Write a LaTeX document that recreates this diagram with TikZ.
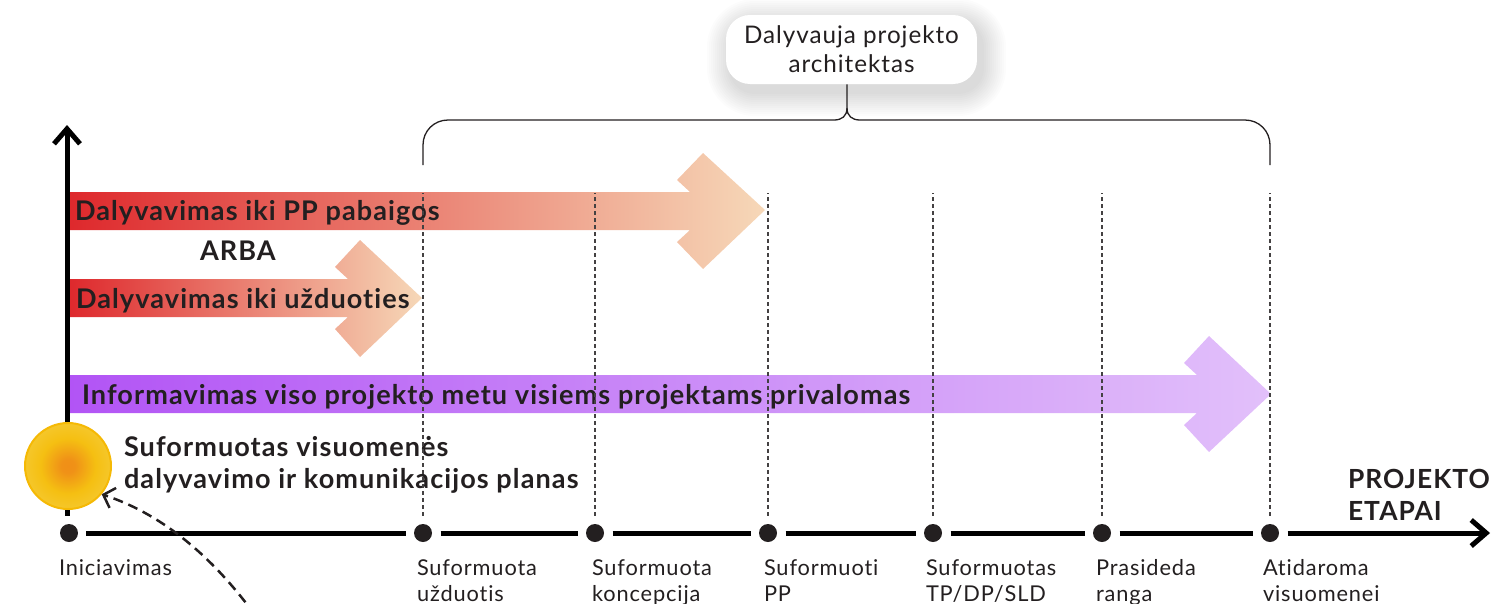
\documentclass[tikz,border=0pt]{standalone}
\usepackage{fontspec}
\setmainfont[LetterSpace=4,RawFeature={-liga;-dlig}]{Lato}
\usetikzlibrary{arrows.meta,positioning}
\definecolor{ink}{RGB}{35,31,32}
\definecolor{redstart}{RGB}{222,40,44}
\definecolor{redend}{RGB}{246,216,184}
\definecolor{violetstart}{RGB}{178,84,245}
\definecolor{violetend}{RGB}{226,192,250}
\definecolor{sunring}{RGB}{245,185,5}
\pgfdeclareradialshading{sunglow}{\pgfpoint{0bp}{0bp}}{rgb(0bp)=(.94,.56,.09);rgb(4bp)=(.94,.57,.09);rgb(16bp)=(.96,.75,.07);rgb(40bp)=(.96,.83,.33);rgb(50bp)=(.96,.85,.40)}
\tikzset{
  barlabel/.style={anchor=base west,inner sep=0pt,outer sep=0pt,text=ink,font=\fontsize{15.4}{18}\selectfont\bfseries},
  steplabel/.style={anchor=base west,inner sep=0pt,outer sep=0pt,text=ink,align=left,font=\fontsize{12.4}{14.7}\selectfont},
  milestone/.style={circle,fill=ink,minimum size=0.36cm,inner sep=0pt,outer sep=0.17cm},
  axisline/.style={line width=0.1cm,black},
  guide/.style={dash pattern=on 0.08cm off 0.06cm,line width=0.022cm,ink!85},
  bracket/.style={line width=0.026cm,ink},
}
\begin{document}
\begin{tikzpicture}[x=0.02cm,y=-0.02cm,>={Straight Barb[length=0.3cm,width=0.52cm,line width=0.1cm]}]
  \useasboundingbox (0,0) rectangle (1510,603);

  % arrows
  \shade[left color=redstart,right color=redend] (68,192) -- (690,192) -- (677,180) -- (703,153) -- (765,210) -- (703,269) -- (677,242) -- (690,230) -- (68,230) -- cycle;
  \shade[left color=redstart,right color=redend] (68,279) -- (348,279) -- (335,267) -- (360,240) -- (422,298) -- (360,357) -- (335,329) -- (348,317) -- (68,317) -- cycle;
  \shade[left color=violetstart,right color=violetend] (68,375) -- (1197,375) -- (1184,363) -- (1209,336) -- (1271,394) -- (1209,452) -- (1184,425) -- (1197,413) -- (68,413) -- cycle;

  \node[barlabel] (barpp)   at (75,220)  {Dalyvavimas iki PP pabaigos};
  \node[barlabel] (arba)    at (200,260) {ARBA};
  \node[barlabel] (baruzd)  at (76,308)  {Dalyvavimas iki užduoties};
  \node[barlabel] (barinfo) at (82,404)  {Informavimas viso projekto metu visiems projektams privalomas};
  \node[barlabel] (plan1)   at (124,456) {Suformuotas visuomenės};
  \node[barlabel] (plan2)   at (124,488) {dalyvavimo ir komunikacijos planas};

  % stages
  \node[milestone] (m1) at (69,533)   {};
  \node[milestone] (m2) at (423,533)  {};
  \node[milestone] (m3) at (595,533)  {};
  \node[milestone] (m4) at (768,533)  {};
  \node[milestone] (m5) at (933,533)  {};
  \node[milestone] (m6) at (1102,533) {};
  \node[milestone] (m7) at (1270,533) {};
  \coordinate (xtip) at (1490,533);
  \coordinate (ytip) at (67,125);
  \coordinate (guidetop) at (0,193);

  \node[steplabel] (l1) at (59,575)   {Iniciavimas};
  \node[steplabel] (l2) at (417,601)  {Suformuota\\užduotis};
  \node[steplabel] (l3) at (592,601)  {Suformuota\\koncepcija};
  \node[steplabel] (l4) at (764,601)  {Suformuoti\\PP};
  \node[steplabel] (l5) at (926,601)  {Suformuotas\\TP/DP/SLD};
  \node[steplabel] (l6) at (1096,601) {Prasideda\\ranga};
  \node[steplabel] (l7) at (1263,601) {Atidaroma\\visuomenei};
  \node[barlabel,font=\fontsize{15}{18}\selectfont\bfseries] (proj1) at (1348,488) {PROJEKTO};
  \node[barlabel,font=\fontsize{15}{18}\selectfont\bfseries] (proj2) at (1348,520) {ETAPAI};

  \foreach \i/\j in {1/2,2/3,3/4,4/5,5/6,6/7}
    \draw[axisline] (m\i) -- (m\j);
  \draw[axisline,->] (m7) -- (xtip);
  \draw[axisline,->] (m1.north -| ytip) -- (ytip);
  \foreach \i in {2,...,7}
    \draw[guide] (m\i.north) -- (m\i.north |- guidetop);

  % sun
  \node[circle,minimum size=1.72cm,inner sep=0pt,draw=sunring,line width=0.04cm,shading=sunglow] (sun) at (68,466) {};
  \coordinate (leader) at (255,615);
  \draw[dash pattern=on 0.2cm off 0.12cm,line width=0.05cm,ink,-{Straight Barb[length=0.2cm,width=0.42cm,line width=0.05cm]}] (leader) .. controls (215,560) and (165,515) .. (sun.-40);

  % callout
  \foreach \s [evaluate=\s as \r using 0.48+0.04*\s] in {1,...,12}
    \fill[black,opacity=0.011,rounded corners=\r cm] (726+5-2*\s,15+8-2*\s) rectangle (977+5+2*\s,84+8+2*\s);
  \node[fill=white,rounded corners=0.48cm,minimum width=5.02cm,minimum height=1.38cm,text=ink,align=center,font=\fontsize{13.8}{16.4}\selectfont] (callout) at (851.5,49.5) {Dalyvauja projekto\\architektas};
  \coordinate (brackleft) at (423,165);
  \coordinate (brackright) at (1270,165);
  \coordinate (brackfork) at (847,108);
  \draw[bracket] (callout.south -| brackfork) -- (brackfork) .. controls (847,116) and (842,120) .. (834,120) -- (448,120) .. controls (434,120) and (423,131) .. (423,145) -- (brackleft);
  \draw[bracket] (brackfork) .. controls (847,116) and (852,120) .. (860,120) -- (1245,120) .. controls (1259,120) and (1270,131) .. (1270,145) -- (brackright);
\end{tikzpicture}
\end{document}
